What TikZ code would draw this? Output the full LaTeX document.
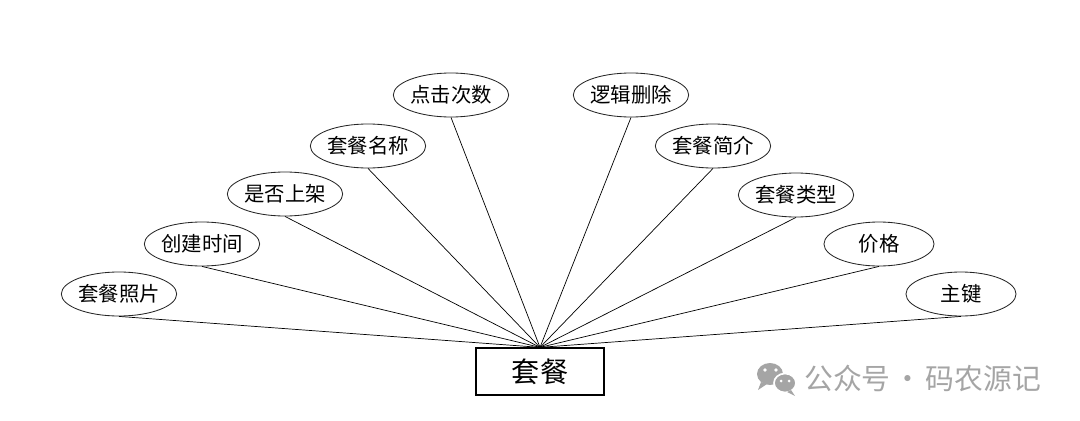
\documentclass[tikz,border=0pt]{standalone}
\usepackage{fontspec}
\newfontfamily\cjk{Noto Sans CJK SC}
\usetikzlibrary{shapes.geometric, positioning}
\definecolor{markgray}{RGB}{165,165,165}
\tikzstyle{attr} = [ellipse, draw=black!85, line width=0.6pt, minimum width=2.75cm, minimum height=1.1cm, inner sep=0pt, text centered, font=\cjk\fontsize{14.5pt}{16pt}\selectfont]
\tikzstyle{entity} = [rectangle, draw=black, line width=0.9pt, minimum width=3.2cm, minimum height=1.175cm, text centered, font=\cjk\fontsize{20pt}{24pt}\selectfont]
\tikzstyle{link} = [line width=0.5pt]

\begin{document}
\begin{tikzpicture}[x=0.025cm, y=-0.025cm]
\useasboundingbox (0,0) rectangle (1080,421);

\node (meal) [entity] at (540,371.5) {套餐};

% attributes, left side
\node (photo) [attr] at (119,294) {套餐照片};
\node (ctime) [attr] at (202,244) {创建时间};
\node (onsale) [attr] at (285,194) {是否上架};
\node (name) [attr] at (368,146) {套餐名称};
\node (clicks) [attr] at (451,95) {点击次数};

% attributes, right side
\node (deleted) [attr] at (631,95) {逻辑删除};
\node (intro) [attr] at (713,146) {套餐简介};
\node (kind) [attr] at (796,195) {套餐类型};
\node (price) [attr] at (879,244) {价格};
\node (pkey) [attr] at (961,294) {主键};

\foreach \a in {photo, ctime, onsale, name, clicks, deleted, intro, kind, price, pkey}
  \draw [link] (\a.south) -- (meal.north);

% watermark
\fill [markgray] (770,374) ellipse [x radius=13, y radius=11];
\fill [markgray] (761,382) -- (758,390) -- (767,384) -- cycle;
\fill [white] (765,370) circle (1.8) (776,370) circle (1.8);
\filldraw [markgray, draw=white, line width=1.2pt] (785,383) ellipse [x radius=11, y radius=9.5];
\fill [markgray] (791,390) -- (795,396) -- (787,392) -- cycle;
\fill [white] (781,381) circle (1.5) (789,381) circle (1.5);
\node (mark) [anchor=west, text=markgray, inner sep=0pt, font=\cjk\fontsize{20.5pt}{24pt}\selectfont] at (804,378) {公众号\hspace{0.075cm}·\hspace{0.075cm}码农源记};

\end{tikzpicture}
\end{document}
